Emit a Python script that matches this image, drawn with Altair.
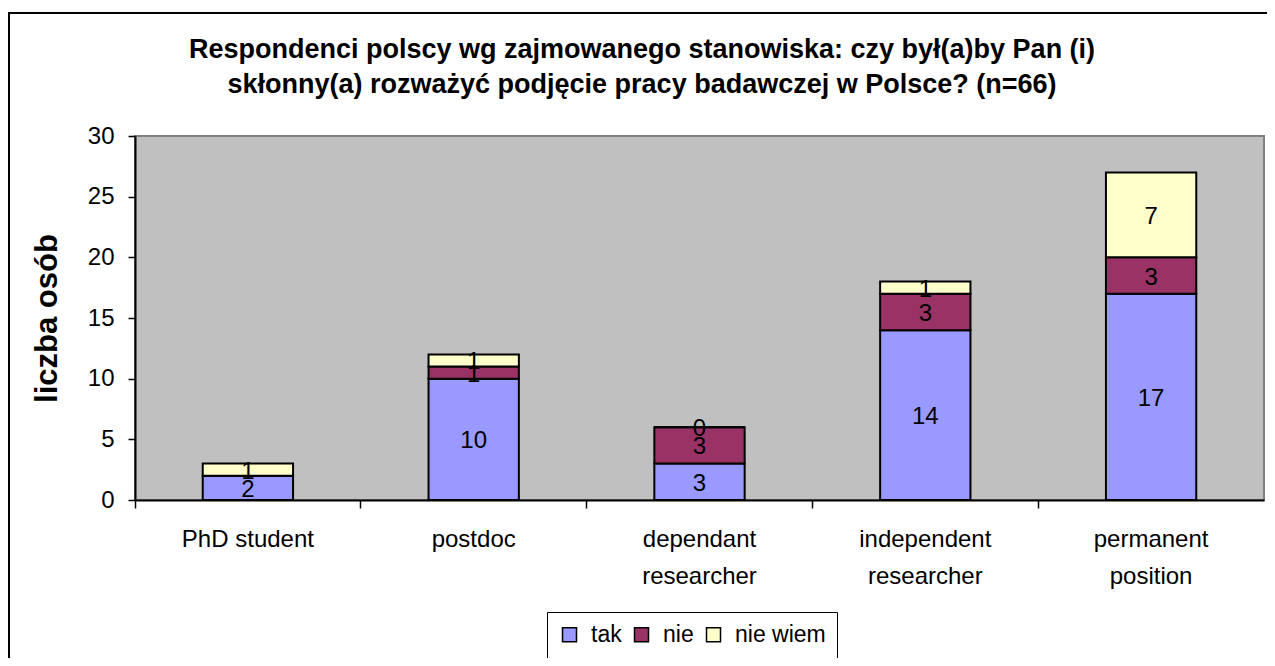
import altair as alt
import pandas as pd

categories = ["PhD student", "postdoc", "dependant\nresearcher", "independent\nresearcher", "permanent\nposition"]
series = ["tak", "nie", "nie wiem"]
tak = [2, 10, 3, 14, 17]
nie = [0, 1, 3, 3, 3]
nie_wiem = [1, 1, 0, 1, 7]
label_tak = ["2", "10", "3", "14", "17"]
label_nie = ["", "1", "3", "3", "3"]
label_nie_wiem = ["1", "1", "0", "1", "7"]
colors = ["#9999FF", "#993366", "#FFFFCC"]
title_lines = [
    "Respondenci polscy wg zajmowanego stanowiska: czy był(a)by Pan (i)",
    "skłonny(a) rozważyć podjęcie pracy badawczej w Polsce? (n=66)",
]

rows = []
for si, (name, vals, labs) in enumerate(zip(series, [tak, nie, nie_wiem], [label_tak, label_nie, label_nie_wiem])):
    for c, v, l in zip(categories, vals, labs):
        rows.append({"kat": c, "seria": name, "v": v, "lab": l, "ord": si})
df = pd.DataFrame(rows)

FONT = "Liberation Sans"
W, H = 1129, 364

xenc = alt.X("kat:N", sort=categories, title=None,
             scale=alt.Scale(paddingInner=0, paddingOuter=0),
             axis=alt.Axis(labelExpr="split(datum.label, '\\n')", labelAngle=0,
                           bandPosition=0, tickSize=8, tickColor="black", tickWidth=1.5,
                           domainColor="black", domainWidth=2, labelPadding=19,
                           labelFontSize=24, labelLineHeight=37, labelFont=FONT,
                           labelColor="black", labelBaseline="top", zindex=1))

yenc = alt.Y("v:Q", stack="zero", title="liczba osób",
             scale=alt.Scale(domain=[0, 30], nice=False),
             axis=alt.Axis(values=[0, 5, 10, 15, 20, 25, 30], grid=False, tickSize=7,
                           tickColor="black", tickWidth=1.5, domainColor="black",
                           domainWidth=2, labelFontSize=24, labelFont=FONT,
                           labelColor="black", labelPadding=14, zindex=1,
                           titleFontSize=31, titleFont=FONT, titleFontWeight="bold",
                           titleColor="black", titlePadding=24))

bg = alt.Chart(pd.DataFrame({"a": [0]})).mark_rect(
    fill="#C0C0C0", stroke="#808080", strokeWidth=2
).encode(x=alt.value(0), x2=alt.value(W), y=alt.value(0), y2=alt.value(H))

frame = alt.Chart(pd.DataFrame({"a": [0]})).mark_rect(
    fill="white", fillOpacity=0, stroke="black", strokeWidth=2
).encode(x=alt.value(-126), x2=alt.value(1300), y=alt.value(-123), y2=alt.value(700))

bars = alt.Chart(df).mark_bar(stroke="black", strokeWidth=2,
                              width=alt.RelativeBandSize(0.4)).encode(
    x=xenc,
    y=yenc,
    color=alt.Color("seria:N", sort=series,
                    scale=alt.Scale(domain=series, range=colors),
                    legend=alt.Legend(title=None, orient="none", legendX=412, legendY=476,
                                      direction="horizontal", strokeColor="black",
                                      padding=11, symbolType="square", symbolSize=196,
                                      symbolStrokeColor="black", symbolStrokeWidth=1.5,
                                      symbolOpacity=1,
                                      labelFontSize=23, labelFont=FONT, labelColor="black",
                                      columnPadding=8, labelOffset=10)),
    order=alt.Order("ord:Q"),
)

labels = alt.Chart(df).transform_stack(
    stack="v", groupby=["kat"], as_=["y0", "y1"], sort=[alt.SortField("ord")]
).transform_calculate(mid="(datum.y0 + datum.y1) / 2").mark_text(
    fontSize=24, font=FONT, color="black", baseline="middle", dy=2
).encode(
    x=alt.X("kat:N", sort=categories, bandPosition=0.5),
    y=alt.Y("mid:Q"),
    text="lab:N",
)

t1 = alt.Chart(pd.DataFrame({"t": [title_lines[0]]})).mark_text(
    fontSize=27, font=FONT, fontWeight="bold", color="black", baseline="middle"
).encode(x=alt.value(507), y=alt.value(-86), text="t:N")
t2 = alt.Chart(pd.DataFrame({"t": [title_lines[1]]})).mark_text(
    fontSize=27, font=FONT, fontWeight="bold", color="black", baseline="middle"
).encode(x=alt.value(507), y=alt.value(-51), text="t:N")

chart = alt.layer(frame, bg, bars, labels, t1, t2).properties(
    width=W, height=H,
    autosize=alt.AutoSizeParams(type="none"),
    padding={"left": 127, "top": 128, "right": 3, "bottom": 158},
).configure_view(stroke=None).configure(background="white")

chart.save("out.html", embed_options={"renderer": "svg", "actions": False})
